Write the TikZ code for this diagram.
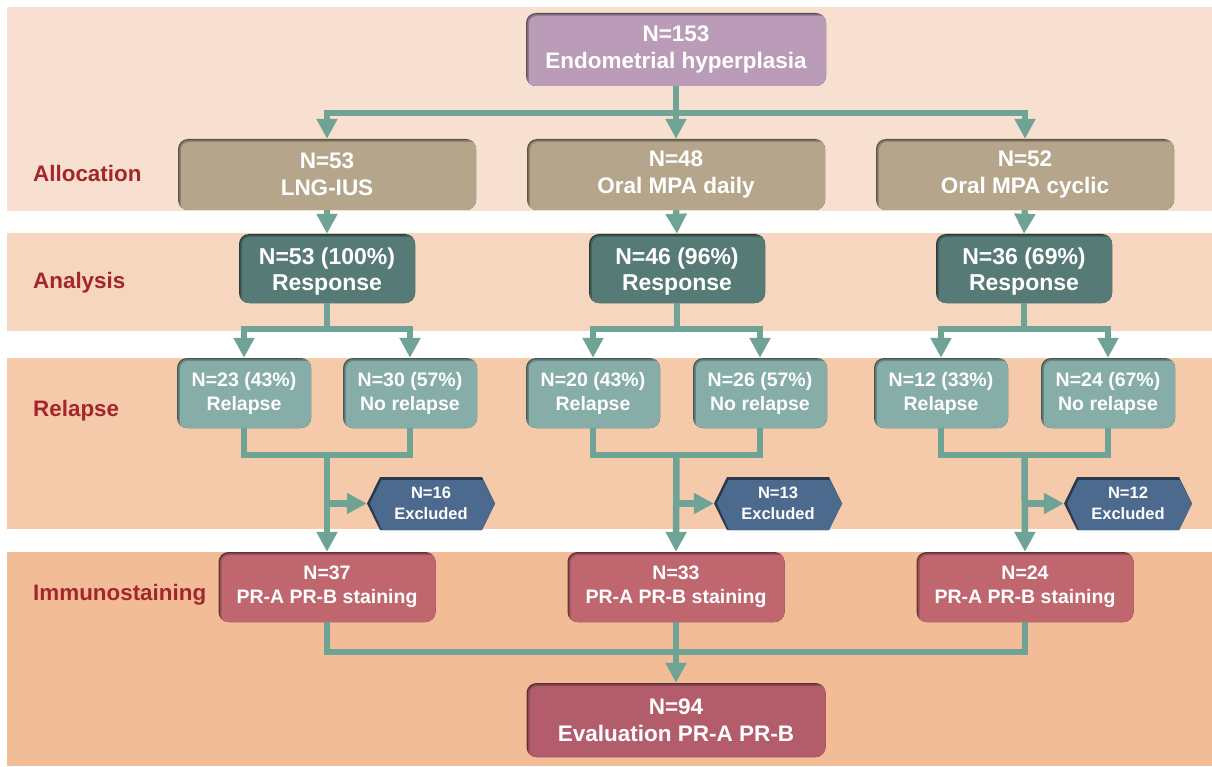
\documentclass[tikz,border=0pt]{standalone}
\usepackage{fontspec}
\setmainfont{Liberation Sans}
\usetikzlibrary{arrows.meta}
\definecolor{cBa}{HTML}{F8E0D0}
\definecolor{cBb}{HTML}{F6D6BF}
\definecolor{cBc}{HTML}{F4CAAA}
\definecolor{cBd}{HTML}{F2BC96}
\definecolor{cTop}{HTML}{BA9CB8}
\definecolor{cAlloc}{HTML}{B5A68B}
\definecolor{cAna}{HTML}{567B76}
\definecolor{cRel}{HTML}{86ADA7}
\definecolor{cEx}{HTML}{4C6A8E}
\definecolor{cImm}{HTML}{BF666F}
\definecolor{cFin}{HTML}{B35C6B}
\definecolor{cConn}{HTML}{6EA396}
\definecolor{cLab}{HTML}{A4262C}
\newcommand{\uplift}[1]{\rule{0pt}{#1}}
\tikzset{
  box/.style={rounded corners=10pt, inner sep=0pt, align=center, text=white,
    fill=#1!50!black,
    path picture={
      \fill[#1!78!black, rounded corners=9pt]
        ([xshift=1.3pt,yshift=-1.3pt]path picture bounding box.north west) rectangle
        ([xshift=4pt,yshift=-4pt]path picture bounding box.south east);
      \fill[#1, rounded corners=8pt]
        ([xshift=3pt,yshift=-3pt]path picture bounding box.north west) rectangle
        ([xshift=4pt,yshift=-4pt]path picture bounding box.south east);
    }},
  fTop/.style={font=\fontsize{22.5pt}{27pt}\selectfont\bfseries},
  fAna/.style={font=\fontsize{23pt}{26pt}\selectfont\bfseries},
  fRel/.style={font=\fontsize{19.5pt}{24pt}\selectfont\bfseries},
  fImm/.style={font=\fontsize{19.5pt}{24pt}\selectfont\bfseries},
  fEx/.style={font=\fontsize{16.5pt}{21pt}\selectfont\bfseries},
  topbox/.style={box=cTop, fTop, minimum width=300pt, minimum height=73pt},
  allocbox/.style={box=cAlloc, fTop, minimum width=298pt, minimum height=71pt},
  anabox/.style={box=cAna, fAna, minimum width=176pt, minimum height=69pt},
  relbox/.style={box=cRel, fRel, minimum width=134pt, minimum height=70pt},
  immbox/.style={box=cImm, fImm, minimum width=217pt, minimum height=70pt},
  finbox/.style={box=cFin, fTop, minimum width=299pt, minimum height=74pt},
  hexbox/.style={inner sep=0pt, align=center, text=white, fEx,
    minimum width=128pt, minimum height=53pt,
    path picture={
      \fill[cEx!55!black] (path picture bounding box.west)
        -- ([xshift=13pt]path picture bounding box.north west)
        -- ([xshift=-13pt]path picture bounding box.north east)
        -- (path picture bounding box.east)
        -- ([xshift=-13pt]path picture bounding box.south east)
        -- ([xshift=13pt]path picture bounding box.south west) -- cycle;
      \fill[cEx] ([xshift=3pt]path picture bounding box.west)
        -- ([xshift=14.5pt,yshift=-3pt]path picture bounding box.north west)
        -- ([xshift=-12pt,yshift=-3pt]path picture bounding box.north east)
        -- (path picture bounding box.east)
        -- ([xshift=-13pt]path picture bounding box.south east)
        -- ([xshift=15pt]path picture bounding box.south west) -- cycle;
    }},
  lab/.style={anchor=base west, text=cLab, inner sep=0pt,
    font=\fontsize{22.4pt}{26pt}\selectfont\bfseries},
  conn/.style={draw=cConn, line width=6.5pt, line join=miter},
  arr/.style={conn, -{Triangle[width=20pt,length=20pt]}},
}
\begin{document}
\begin{tikzpicture}[x=1pt, y=-1pt]
\useasboundingbox (0,0) rectangle (1212,767);
\fill[white] (0,0) rectangle (1212,767);
% bands
\fill[cBa] (7,7) rectangle (1212,211);
\fill[cBb] (7,233) rectangle (1212,331);
\fill[cBc] (7,358) rectangle (1212,529);
\fill[cBd] (7,552) rectangle (1212,766);
% labels
\node[lab] (lAl) at (33,182) {Allocation};
\node[lab] (lAn) at (33,288) {Analysis};
\node[lab] (lRe) at (33,416) {Relapse};
\node[lab] (lIm) at (33,600) {Immunostaining};
% nodes
\node[topbox] (top) at (676,49.5) {N=153\\Endometrial hyperplasia};
\node[allocbox] (al1) at (327,174.5) {N=53\\LNG-IUS};
\node[allocbox] (al2) at (676,174.5) {N=48\\Oral MPA daily};
\node[allocbox] (al3) at (1025,174.5) {N=52\\Oral MPA cyclic};
\node[anabox] (an1) at (327,268.5) {\uplift{23pt}N=53 (100\%)\\Response};
\node[anabox] (an2) at (677,268.5) {\uplift{23pt}N=46 (96\%)\\Response};
\node[anabox] (an3) at (1024,268.5) {\uplift{23pt}N=36 (69\%)\\Response};
\node[relbox] (r1a) at (244,393) {N=23 (43\%)\\Relapse};
\node[relbox] (r1b) at (410,393) {N=30 (57\%)\\No relapse};
\node[relbox] (r2a) at (593,393) {N=20 (43\%)\\Relapse};
\node[relbox] (r2b) at (760,393) {N=26 (57\%)\\No relapse};
\node[relbox] (r3a) at (941,393) {N=12 (33\%)\\Relapse};
\node[relbox] (r3b) at (1108,393) {N=24 (67\%)\\No relapse};
\node[hexbox] (ex1) at (431,503.5) {N=16\\Excluded};
\node[hexbox] (ex2) at (778,503.5) {N=13\\Excluded};
\node[hexbox] (ex3) at (1128,503.5) {N=12\\Excluded};
\node[immbox] (im1) at (327,587) {N=37\\PR-A PR-B staining};
\node[immbox] (im2) at (676,587) {N=33\\PR-A PR-B staining};
\node[immbox] (im3) at (1025,587) {N=24\\PR-A PR-B staining};
\node[finbox] (fin) at (676,720) {N=94\\Evaluation PR-A PR-B};
% junction coordinates
\coordinate (j0) at (676,113);
\coordinate (ja1) at (327,329);
\coordinate (ja2) at (677,329);
\coordinate (ja3) at (1024,329);
\coordinate (m1) at (327,455);
\coordinate (m2) at (676.5,455);
\coordinate (m3) at (1024.5,455);
\coordinate (m4) at (676,652);
% connectors
\draw[conn] (top.south) -- (j0);
\draw[arr] (j0) -| (al1.north);
\draw[arr] (j0) -| (al3.north);
\draw[arr] (j0) -- (al2.north);
\draw[arr] (al1.south) -- (an1.north);
\draw[arr] (al2.south) -- (an2.north);
\draw[arr] (al3.south) -- (an3.north);
\draw[conn] (an1.south) -- (ja1);
\draw[conn] (an2.south) -- (ja2);
\draw[conn] (an3.south) -- (ja3);
\draw[arr] (ja1) -| (r1a.north);
\draw[arr] (ja1) -| (r1b.north);
\draw[arr] (ja2) -| (r2a.north);
\draw[arr] (ja2) -| (r2b.north);
\draw[arr] (ja3) -| (r3a.north);
\draw[arr] (ja3) -| (r3b.north);
\draw[conn] (r1a.south) |- (m1) -| (r1b.south);
\draw[conn] (r2a.south) |- (m2) -| (r2b.south);
\draw[conn] (r3a.south) |- (m3) -| (r3b.south);
\draw[arr] (m1) -- (im1.north);
\draw[arr] (m2) -- (im2.north);
\draw[arr] (m3) -- (im3.north);
\draw[arr] (ex1.west -| m1) -- (ex1.west);
\draw[arr] (ex2.west -| m2) -- (ex2.west);
\draw[arr] (ex3.west -| m3) -- (ex3.west);
\draw[conn] (im1.south) |- (m4) -| (im3.south);
\draw[arr] (im2.south) -- (fin.north);
\end{tikzpicture}
\end{document}
